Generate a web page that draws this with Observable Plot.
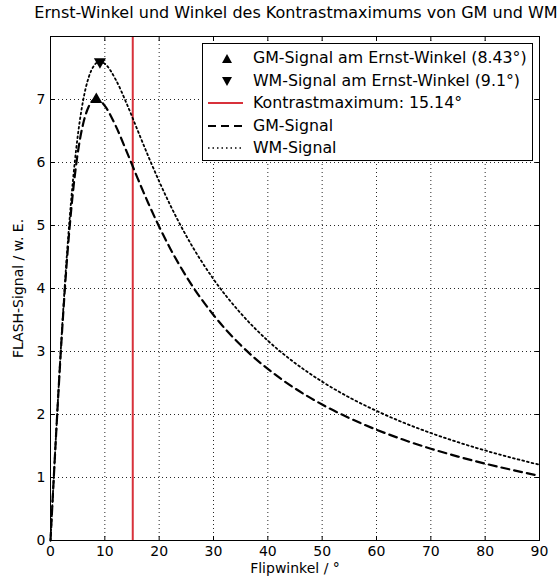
<!DOCTYPE html>
<html>
<head>
<meta charset="utf-8">
<script src="https://cdn.jsdelivr.net/npm/d3@7"></script>
<script src="https://cdn.jsdelivr.net/npm/@observablehq/plot@0.6"></script>
<style>
  html, body { margin: 0; padding: 0; background: #fff; }
  #wrap { position: relative; width: 557px; height: 577px; overflow: hidden; font-family: "DejaVu Sans", sans-serif; }
  #title { position: absolute; left: 0; top: 3px; width: 592px; text-align: center; font-size: 16px; white-space: nowrap; color: #000; }
  #legend { position: absolute; left: 202px; top: 43px; width: 331px; height: 118px; border: 1px solid #000; background: #fff; box-sizing: border-box; font-size: 15.8px; color: #000; }
  .row { position: absolute; left: 0; height: 20px; width: 100%; }
  .row svg { position: absolute; left: 3px; top: 0; }
  .row span { position: absolute; left: 50px; top: 0px; line-height: 20px; white-space: nowrap; }
</style>
</head>
<body>
<div id="wrap"></div>
<script>
// ---- data ----
const flipAngles = [0, 0.5, 1, 2, 3, 4, 5, 6, 7, 8, 9, 10, 12, 14, 16, 18, 20, 22, 25, 30, 35, 40, 45, 50, 55, 60, 65, 70, 75, 80, 85, 90];
const gmSignal = [0, 0.826, 1.635, 3.140, 4.418, 5.418, 6.140, 6.612, 6.880, 6.990, 6.985, 6.898, 6.581, 6.177, 5.757, 5.354, 4.981, 4.640, 4.190, 3.579, 3.102, 2.723, 2.414, 2.158, 1.943, 1.758, 1.598, 1.457, 1.332, 1.220, 1.119, 1.026];
const wmSignal = [0, 0.831, 1.647, 3.181, 4.513, 5.593, 6.410, 6.982, 7.345, 7.537, 7.600, 7.567, 7.316, 6.939, 6.518, 6.099, 5.700, 5.331, 4.834, 4.149, 3.608, 3.172, 2.817, 2.521, 2.271, 2.057, 1.870, 1.706, 1.560, 1.429, 1.311, 1.202];
const ernstGM = [{angle: 8.43, signal: 7.0}];
const ernstWM = [{angle: 9.1, signal: 7.6}];
const contrastMax = [15.14];
const xTicks = [0, 10, 20, 30, 40, 50, 60, 70, 80, 90];
const yTicks = [0, 1, 2, 3, 4, 5, 6, 7];
const yTicksAll = [0, 1, 2, 3, 4, 5, 6, 7, 8];
const legendLabels = [
  "GM-Signal am Ernst-Winkel (8.43°)",
  "WM-Signal am Ernst-Winkel (9.1°)",
  "Kontrastmaximum: 15.14°",
  "GM-Signal",
  "WM-Signal"
];
const titleText = "Ernst-Winkel und Winkel des Kontrastmaximums von GM und WM";
const xLabel = "Flipwinkel / °";
const yLabel = "FLASH-Signal / w. E.";

const gmData = flipAngles.map((a, i) => ({angle: a, signal: gmSignal[i]}));
const wmData = flipAngles.map((a, i) => ({angle: a, signal: wmSignal[i]}));
const red = "#d8313b";

const tickUp = {draw(ctx, l) { ctx.moveTo(0, 0); ctx.lineTo(0, -l); }};
const gridStyle = {stroke: "#000", strokeOpacity: 0.85, strokeWidth: 1, strokeDasharray: "1,3"};

const plot = Plot.plot({
  width: 557,
  height: 577,
  marginLeft: 50,
  marginRight: 18,
  marginTop: 36,
  marginBottom: 37,
  style: {fontFamily: "DejaVu Sans, sans-serif", fontSize: "14px", color: "#000", background: "transparent"},
  x: {domain: [0, 90]},
  y: {domain: [0, 8]},
  marks: [
    Plot.ruleX(xTicks.slice(1, -1), {x: d => d, ...gridStyle}),
    Plot.ruleY(yTicks.slice(1), {y: d => d, ...gridStyle}),
    Plot.axisX(xTicks, {tickSize: 0, tickPadding: 6, tickFormat: "d", label: xLabel, labelAnchor: "center", labelArrow: "none", labelOffset: 32, fontSize: 14}),
    Plot.axisY(yTicks, {tickSize: 0, tickPadding: 5, tickFormat: "d", label: yLabel, labelAnchor: "center", labelArrow: "none", labelOffset: 37, fontSize: 14}),
    // inward ticks on all four sides
    Plot.vector(xTicks, {x: d => d, frameAnchor: "bottom", length: 4, rotate: 0, anchor: "start", shape: tickUp, stroke: "#000", strokeWidth: 1}),
    Plot.vector(xTicks, {x: d => d, frameAnchor: "top", length: 4, rotate: 180, anchor: "start", shape: tickUp, stroke: "#000", strokeWidth: 1}),
    Plot.vector(yTicksAll, {y: d => d, frameAnchor: "left", length: 4, rotate: 90, anchor: "start", shape: tickUp, stroke: "#000", strokeWidth: 1}),
    Plot.vector(yTicksAll, {y: d => d, frameAnchor: "right", length: 4, rotate: -90, anchor: "start", shape: tickUp, stroke: "#000", strokeWidth: 1}),
    Plot.ruleX(contrastMax, {stroke: red, strokeWidth: 2}),
    Plot.line(gmData, {x: "angle", y: "signal", curve: "monotone-x", stroke: "#000", strokeWidth: 2.2, strokeDasharray: "8,5"}),
    Plot.line(wmData, {x: "angle", y: "signal", curve: "monotone-x", stroke: "#000", strokeWidth: 1.8, strokeDasharray: "1.8,3"}),
    Plot.dot(ernstGM, {x: "angle", y: "signal", symbol: "triangle", r: 4.5, fill: "#000", stroke: "none"}),
    Plot.dot(ernstWM, {x: "angle", y: "signal", symbol: "triangle", rotate: 180, r: 4.5, fill: "#000", stroke: "none"}),
    Plot.frame({stroke: "#000", strokeWidth: 1})
  ]
});

const wrap = document.getElementById("wrap");
wrap.appendChild(plot);

const title = document.createElement("div");
title.id = "title";
title.textContent = titleText;
wrap.appendChild(title);

const legend = document.createElement("div");
legend.id = "legend";
const swatches = [
  `<svg width="42" height="20"><path d="M16,15 L21,6 L26,15 Z" fill="#000"/></svg>`,
  `<svg width="42" height="20"><path d="M16,6 L21,15 L26,6 Z" fill="#000"/></svg>`,
  `<svg width="42" height="20"><line x1="2" x2="37" y1="10" y2="10" stroke="${red}" stroke-width="2"/></svg>`,
  `<svg width="42" height="20"><line x1="2" x2="37" y1="10" y2="10" stroke="#000" stroke-width="2.2" stroke-dasharray="8,5"/></svg>`,
  `<svg width="42" height="20"><line x1="2" x2="37" y1="10" y2="10" stroke="#000" stroke-width="1.4" stroke-dasharray="1.5,3"/></svg>`
];
legendLabels.forEach((lab, i) => {
  const row = document.createElement("div");
  row.className = "row";
  row.style.top = (4 + i * 22.5) + "px";
  row.innerHTML = swatches[i] + `<span>${lab}</span>`;
  legend.appendChild(row);
});
wrap.appendChild(legend);
</script>
</body>
</html>
